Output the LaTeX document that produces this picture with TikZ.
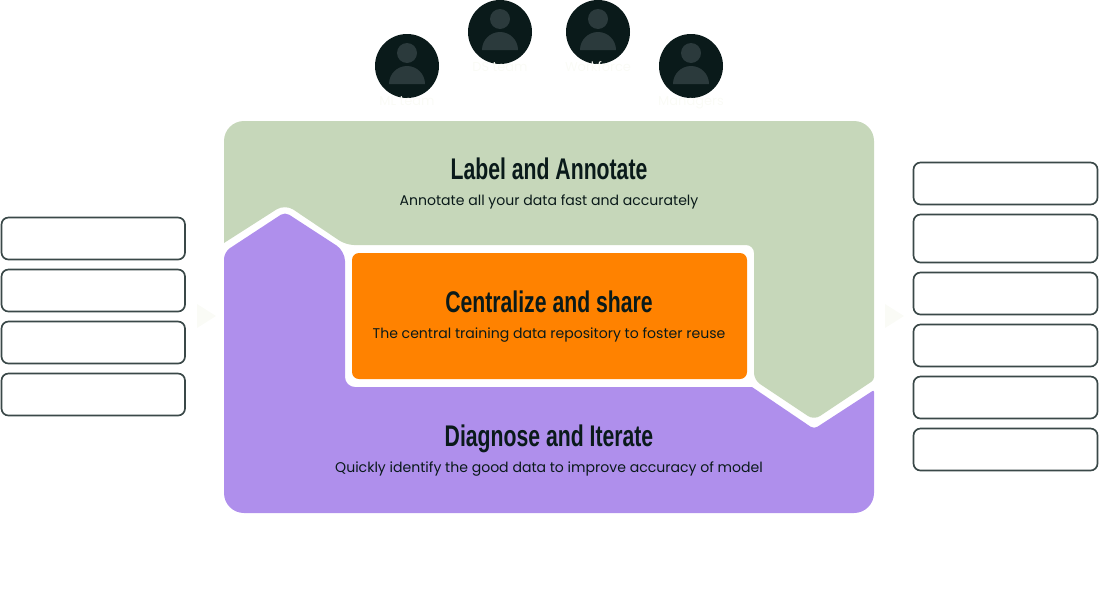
\documentclass[tikz,border=0pt]{standalone}
\usepackage{fontspec}
\setmainfont{Poppins}
\newfontfamily\headfont[FakeStretch=0.71]{Liberation Sans}
\definecolor{inkdark}{HTML}{0A1A1A}
\definecolor{inkbust}{HTML}{2B3A3C}
\definecolor{boxline}{HTML}{3A4848}
\definecolor{ghost}{HTML}{FAFBF6}
\definecolor{sage}{HTML}{C6D7BA}
\definecolor{lilac}{HTML}{AF8FEC}
\definecolor{amber}{HTML}{FF8200}
\tikzset{
  listbox/.style={draw=boxline,line width=0.95pt,fill=white,rounded corners=0.14cm},
  headtext/.style={text=inkdark,anchor=base,font=\headfont\bfseries\fontsize{17}{20}\selectfont,inner sep=0},
  subtext/.style={text=inkdark,anchor=base,font=\fontsize{8}{10}\selectfont,inner sep=0},
  teamtext/.style={text=ghost,anchor=base,font=\fontsize{7.4}{9}\selectfont,inner sep=0},
}
\begin{document}
\begin{tikzpicture}[x=0.02cm,y=-0.02cm]
\useasboundingbox (0,0) rectangle (1099,602);
%label region
\fill [sage,rounded corners=0.4cm] (224,243) -- (224,121) -- (874,121) [rounded corners=0.06cm] -- (874,380) [rounded corners=0.14cm] -- (814,420) -- (754,380) [rounded corners=0.16cm] -- (754,245) -- (346,245) [rounded corners=0.2cm] -- (285,204) [sharp corners] -- cycle;
%diagnose region
\fill [lilac,rounded corners=0.4cm] (224,400) -- (224,513) -- (874,513) [rounded corners=0.04cm] -- (874,390) [rounded corners=0.08cm] -- (814,429) [sharp corners] -- (752,387) [rounded corners=0.2cm] -- (345,387) -- (345,251) [rounded corners=0.1cm] -- (285,212) [rounded corners=0.14cm] -- (224,252) [sharp corners] -- cycle;
%centre region
\fill [amber,rounded corners=0.14cm] (352,253) rectangle (747,379);
%side arrows
\fill [ghost] (197,304) -- (216,316) -- (197,328) -- cycle;
\fill [ghost] (885,304) -- (904,316) -- (885,328) -- cycle;
%left boxes
\foreach \ytop/\ybot in {217.5/259.5,269.5/311.5,321.5/363.5,373.5/415.5}
  \draw [listbox] (1.5,\ytop) rectangle (185,\ybot);
%right boxes
\foreach \ytop/\ybot in {162.5/204.5,214.5/262.5,272.5/314.5,324.5/366.5,376.5/418.5,428.5/470.5}
  \draw [listbox] (913.5,\ytop) rectangle (1097.5,\ybot);
%people
\foreach \px/\py/\who/\nm in {407/66/ML team/ml,500/32/DS team/ds,598/32/Workforce/wf,691/66/Managers/mg}{
  \fill [inkdark] (\px,\py) circle (32);
  \fill [inkbust] (\px,\py-13) circle (10);
  \fill [inkbust] (\px-18,\py+18) arc (180:360:18) -- cycle;
  \node [teamtext] (\nm) at (\px,\py+39) {\who};
}
\node [headtext] (labelhead) at (549,179) {Label and Annotate};
\node [subtext] (labelsub) at (549,205.5) {Annotate all your data fast and accurately};
\node [headtext] (centrehead) at (549,312) {Centralize and share};
\node [subtext] (centresub) at (549,338.5) {The central training data repository to foster reuse};
\node [headtext] (diaghead) at (549,446) {Diagnose and Iterate};
\node [subtext] (diagsub) at (549,472.5) {Quickly identify the good data to improve accuracy of model};
\end{tikzpicture}
\end{document}
